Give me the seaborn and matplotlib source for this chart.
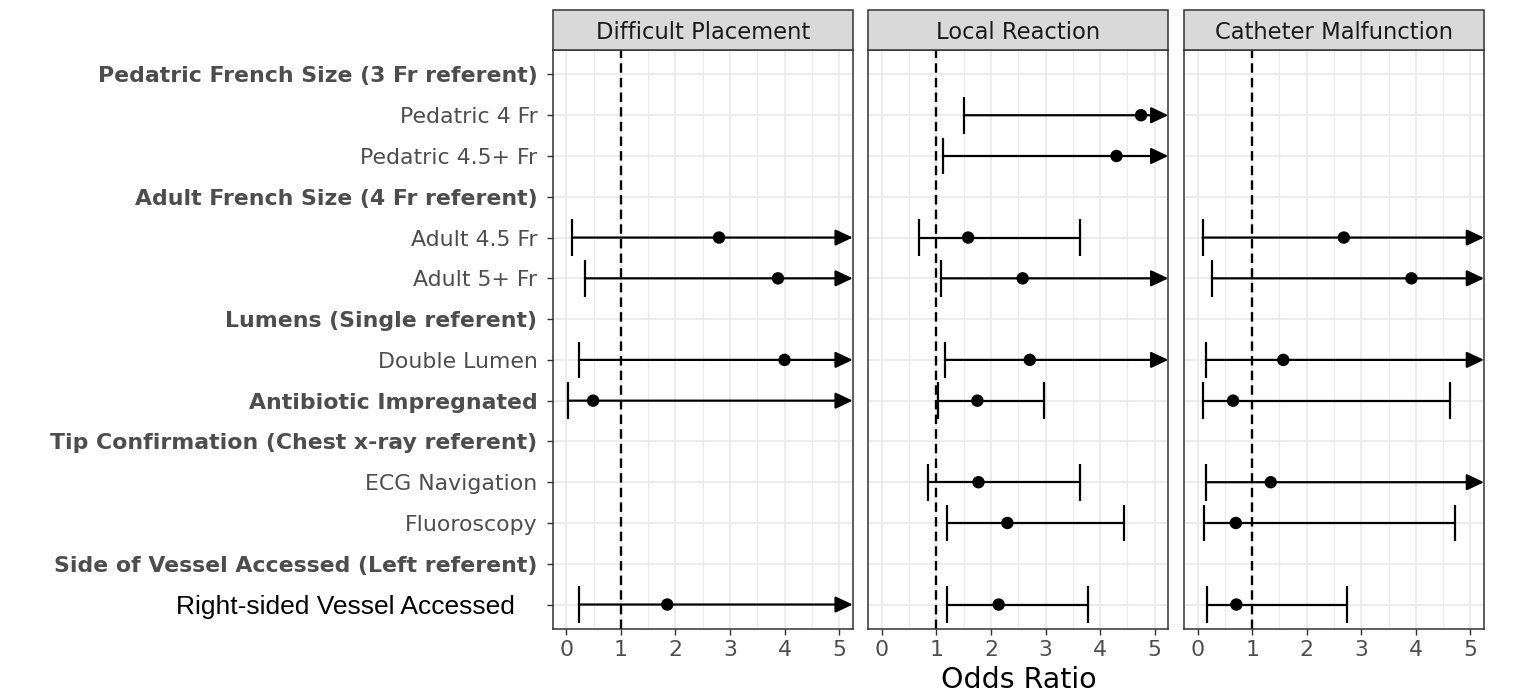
#!/usr/bin/env python3
"""
Forest plot of odds ratios for PICC complications, three outcome panels
"""
import numpy as np
import pandas as pd
import matplotlib
matplotlib.use("Agg")
import matplotlib.pyplot as plt
from matplotlib.patches import Rectangle
import seaborn as sns

nan = np.nan
inf = np.inf  # upper limit runs past the axis -> drawn as an arrow

# Row labels, top to bottom
categories = [
    "Pedatric French Size (3 Fr referent)",
    "Pedatric 4 Fr",
    "Pedatric 4.5+ Fr",
    "Adult French Size (4 Fr referent)",
    "Adult 4.5 Fr",
    "Adult 5+ Fr",
    "Lumens (Single referent)",
    "Double Lumen",
    "Antibiotic Impregnated",
    "Tip Confirmation (Chest x-ray referent)",
    "ECG Navigation",
    "Fluoroscopy",
    "Side of Vessel Accessed (Left referent)",
    "Right-sided Vessel Accessed",
]
bold_labels = [
    "Pedatric French Size (3 Fr referent)",
    "Adult French Size (4 Fr referent)",
    "Lumens (Single referent)",
    "Antibiotic Impregnated",
    "Tip Confirmation (Chest x-ray referent)",
    "Side of Vessel Accessed (Left referent)",
]
outcomes = ["Difficult Placement", "Local Reaction", "Catheter Malfunction"]

# Odds ratios and 95% CI per outcome
difficult_or = [nan, nan, nan, nan, 2.80, 3.88, nan, 4.00, 0.49, nan, nan, nan, nan, 1.85]
difficult_lo = [nan, nan, nan, nan, 0.11, 0.34, nan, 0.24, 0.03, nan, nan, nan, nan, 0.23]
difficult_hi = [nan, nan, nan, nan, inf, inf, nan, inf, inf, nan, nan, nan, nan, inf]

local_or = [nan, 4.75, 4.30, nan, 1.58, 2.58, nan, 2.71, 1.75, nan, 1.77, 2.30, nan, 2.14]
local_lo = [nan, 1.50, 1.12, nan, 0.68, 1.08, nan, 1.16, 1.02, nan, 0.85, 1.19, nan, 1.20]
local_hi = [nan, inf, inf, nan, 3.63, inf, nan, inf, 2.97, nan, 3.63, 4.44, nan, 3.78]

malf_or = [nan, nan, nan, nan, 2.68, 3.92, nan, 1.57, 0.65, nan, 1.34, 0.70, nan, 0.71]
malf_lo = [nan, nan, nan, nan, 0.09, 0.26, nan, 0.15, 0.09, nan, 0.16, 0.11, nan, 0.18]
malf_hi = [nan, nan, nan, nan, inf, inf, nan, inf, 4.62, nan, inf, 4.71, nan, 2.74]

# long table
frames = []
for name, o, lo, hi in zip(outcomes,
                           [difficult_or, local_or, malf_or],
                           [difficult_lo, local_lo, malf_lo],
                           [difficult_hi, local_hi, malf_hi]):
    frames.append(pd.DataFrame({
        "outcome": name,
        "term": categories,
        "pos": np.arange(len(categories)),
        "or": o, "lo": lo, "hi": hi,
    }))
df = pd.concat(frames, ignore_index=True).dropna(subset=["or"])

sns.set_theme(style="white")
plt.rcParams["font.family"] = ["DejaVu Sans"]

W, H = 1537, 692
fig = plt.figure(figsize=(W / 100, H / 100), dpi=100)

XMIN, XMAX = -0.25, 5.25
panel_lefts = [552.7, 868.3, 1184.0]
panel_w = 300.0
panel_top, panel_bot = 50.0, 629.0
strip_h = 40.0
edge = "#333333"
grid_c = "#EBEBEB"
tick_fs = 15.8

for i, (name, left) in enumerate(zip(outcomes, panel_lefts)):
    ax = fig.add_axes([left / W, 1 - panel_bot / H, panel_w / W,
                       (panel_bot - panel_top) / H])
    sub = df[df["outcome"] == name]

    ax.set_xlim(XMIN, XMAX)
    ax.set_ylim(len(categories) - 0.4, -0.6)
    ax.set_xticks(range(6))
    ax.set_xticks(np.arange(0.5, 5, 1.0), minor=True)
    ax.set_yticks(range(len(categories)))
    ax.grid(which="major", color=grid_c, lw=1.3, zorder=0)
    ax.grid(which="minor", axis="x", color=grid_c, lw=0.8, zorder=0)
    ax.set_axisbelow(True)

    # reference line at OR = 1
    ax.axvline(1, color="black", lw=1.7, ls=(0, (4, 2.2)), zorder=2)

    # confidence intervals
    cap = 0.45
    for _, r in sub.iterrows():
        ax.vlines(r["lo"], r["pos"] - cap, r["pos"] + cap, color="black", lw=1.6, zorder=3)
        if np.isfinite(r["hi"]) and r["hi"] <= XMAX:
            ax.hlines(r["pos"], r["lo"], r["hi"], color="black", lw=1.6, zorder=3)
            ax.vlines(r["hi"], r["pos"] - cap, r["pos"] + cap, color="black", lw=1.6, zorder=3)
        else:
            ax.annotate("", xy=(XMAX, r["pos"]), xytext=(r["lo"], r["pos"]),
                        arrowprops=dict(arrowstyle="-|>,head_length=0.7,head_width=0.33",
                                        mutation_scale=15, lw=1.6, color="black",
                                        shrinkA=0, shrinkB=0),
                        zorder=3, annotation_clip=False)

    sns.scatterplot(data=sub, x="or", y="pos", ax=ax, color="black", s=80,
                    edgecolor="none", zorder=4, legend=False)

    ax.set_xlabel("")
    ax.set_ylabel("")
    for s in ax.spines.values():
        s.set_color(edge)
        s.set_linewidth(1.1)
        s.set_visible(True)

    ax.tick_params(axis="x", which="major", length=4, width=1, color=edge,
                   labelsize=tick_fs, labelcolor="#4D4D4D", pad=4, bottom=True)
    ax.tick_params(axis="x", which="minor", length=0)
    if i == 0:
        ax.tick_params(axis="y", length=4, width=1, color=edge, left=True,
                       labelsize=tick_fs, labelcolor="#4D4D4D", pad=7)
        labels = []
        for c in categories:
            labels.append(c + "   " if c == "Right-sided Vessel Accessed" else c)
        ax.set_yticklabels(labels)
        for t, c in zip(ax.get_yticklabels(), categories):
            if c in bold_labels:
                t.set_fontweight("bold")
            if c == "Right-sided Vessel Accessed":
                t.set_family(["Liberation Sans", "DejaVu Sans"])
                t.set_fontsize(19)
                t.set_color("black")
    else:
        ax.tick_params(axis="y", length=0, labelleft=False)

    # facet strip
    frac = strip_h / (panel_bot - panel_top)
    ax.add_patch(Rectangle((0, 1), 1, frac, transform=ax.transAxes,
                           facecolor="#D9D9D9", edgecolor=edge, lw=1.1,
                           clip_on=False, zorder=5))
    ax.text(0.5, 1 + frac / 2, name, transform=ax.transAxes, ha="center",
            va="center_baseline", fontsize=16.3, color="#1A1A1A", zorder=6)

fig.text((panel_lefts[0] + panel_lefts[-1] + panel_w) / 2 / W, 1 - 688 / H,
         "Odds Ratio", ha="center", va="baseline", fontsize=20.5, color="black")

fig.savefig("out.png", dpi=100)
